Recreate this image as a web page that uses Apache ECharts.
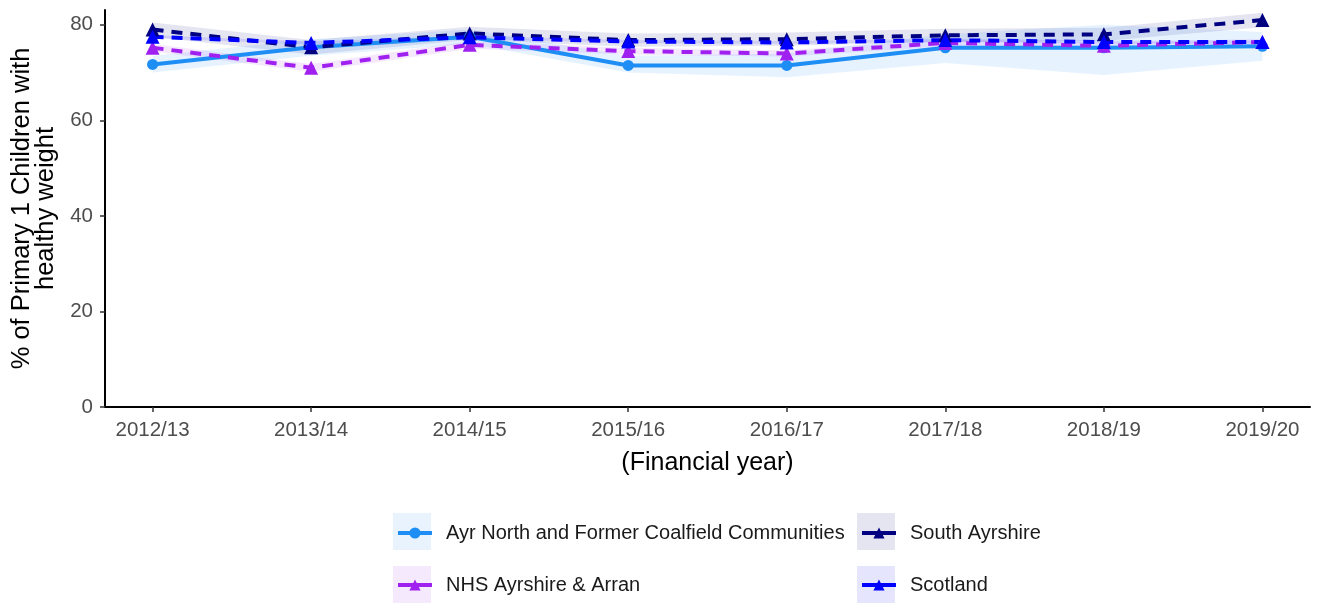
<!DOCTYPE html>
<html>
<head>
<meta charset="utf-8">
<script src="https://cdn.jsdelivr.net/npm/echarts@6/dist/echarts.min.js"></script>
<style>
html,body{margin:0;padding:0;background:#fff;}
#chart{width:1323px;height:604px;}
</style>
</head>
<body>
<div id="chart"></div>
<script>
const categories = ['2012/13','2013/14','2014/15','2015/16','2016/17','2017/18','2018/19','2019/20'];
const yTicks = [0,20,40,60,80];

const ayrValues   = [71.7, 75.3, 77.5, 71.5, 71.5, 75.2, 75.2, 75.5];
const ayrLower    = [70.0, 73.5, 76.0, 70.0, 69.0, 72.0, 69.5, 72.5];
const ayrUpper    = [73.5, 77.0, 79.0, 73.5, 74.0, 78.0, 80.0, 78.5];

const nhsValues   = [75.2, 71.0, 75.8, 74.5, 74.0, 76.2, 75.6, 76.4];
const nhsLower    = [74.4, 70.2, 75.0, 73.8, 73.3, 75.5, 74.9, 75.7];
const nhsUpper    = [76.0, 71.8, 76.6, 75.2, 74.7, 76.9, 76.3, 77.1];

const sayValues   = [79.0, 75.3, 78.2, 76.8, 77.0, 77.8, 78.0, 81.0];
const sayLower    = [77.5, 73.8, 76.8, 75.4, 75.6, 76.4, 76.6, 79.5];
const sayUpper    = [80.5, 76.8, 79.6, 78.2, 78.4, 79.2, 79.4, 82.5];

const scoValues   = [77.5, 76.2, 77.4, 76.5, 76.3, 76.8, 76.4, 76.4];
const scoLower    = [77.2, 75.9, 77.1, 76.2, 76.0, 76.5, 76.1, 76.1];
const scoUpper    = [77.8, 76.5, 77.7, 76.8, 76.6, 77.1, 76.7, 76.7];

const FONT = '"Liberation Sans", Arial, sans-serif';

const seriesDefs = [
  {name:'Ayr North and Former Coalfield Communities', v:ayrValues, lo:ayrLower, hi:ayrUpper, color:'#1E8EF5', band:'rgba(30,144,255,0.11)', symbol:'circle', size:11, dash:'solid'},
  {name:'NHS Ayrshire & Arran', v:nhsValues, lo:nhsLower, hi:nhsUpper, color:'#A020F0', band:'rgba(160,32,240,0.10)', symbol:'triangle', size:14, dash:[11,8]},
  {name:'South Ayrshire', v:sayValues, lo:sayLower, hi:sayUpper, color:'#000080', band:'rgba(0,0,128,0.10)', symbol:'triangle', size:14, dash:[11,8]},
  {name:'Scotland', v:scoValues, lo:scoLower, hi:scoUpper, color:'#0000FF', band:'rgba(0,0,255,0.10)', symbol:'triangle', size:14, dash:[11,8]}
];

const series = [];
seriesDefs.forEach((d, k) => {
  series.push({
    type:'custom', name:'band_'+k, silent:true, z:1,
    data:d.lo.map((lo,i)=>[i, lo, d.hi[i]]),
    encode:{x:0, y:[1,2]},
    renderItem:function(params, api){
      if (params.dataIndex !== 0) return null;
      const pts = [];
      for (let i = 0; i < d.lo.length; i++) pts.push(api.coord([i, d.hi[i]]));
      for (let i = d.lo.length - 1; i >= 0; i--) pts.push(api.coord([i, d.lo[i]]));
      return {type:'polygon', shape:{points:pts}, style:{fill:d.band}};
    }
  });
});
seriesDefs.forEach((d) => {
  series.push({
    type:'line', name:d.name, symbol:d.symbol, symbolSize:d.size, showSymbol:true,
    itemStyle:{color:d.color}, lineStyle:{color:d.color, width:4, type:d.dash},
    data:d.v.map((y,i)=>[i,y]), z:5
  });
});

function legendFor(name, left, top){
  return {
    orient:'horizontal', left:left, top:top, padding:0,
    itemWidth:34, itemHeight:14,
    lineStyle:{width:4, type:'solid'},
    textStyle:{fontFamily:FONT, fontSize:20, color:'#1a1a1a', padding:[0,0,0,9]},
    data:[{name:name}]
  };
}

const chart = echarts.init(document.getElementById('chart'), null, {renderer:'canvas'});
chart.setOption({
  animation:false,
  backgroundColor:'#fff',
  textStyle:{fontFamily:FONT},
  grid:{left:105, right:13, top:10, bottom:197},
  xAxis:{
    type:'value', min:-0.3, max:7.3,
    name:'(Financial year)', nameLocation:'middle', nameGap:44,
    nameTextStyle:{fontFamily:FONT, fontSize:25, color:'#000'},
    axisLine:{show:true, onZero:false, lineStyle:{color:'#000', width:2}},
    axisTick:{show:true, customValues:[0,1,2,3,4,5,6,7], length:5, lineStyle:{color:'#333', width:1.5}},
    axisLabel:{customValues:[0,1,2,3,4,5,6,7], formatter:(v)=>categories[Math.round(v)], fontFamily:FONT, fontSize:20.5, color:'#4D4D4D', margin:13},
    splitLine:{show:false}
  },
  yAxis:{
    type:'value', min:0, max:83.1,
    name:'% of Primary 1 Children with\nhealthy weight', nameLocation:'middle', nameRotate:90, nameGap:45,
    nameTextStyle:{fontFamily:FONT, fontSize:25.5, color:'#000', lineHeight:24.5},
    axisLine:{show:true, onZero:false, lineStyle:{color:'#000', width:2}},
    axisTick:{show:true, customValues:yTicks, length:5, lineStyle:{color:'#333', width:1.5}},
    axisLabel:{customValues:yTicks, fontFamily:FONT, fontSize:20.5, color:'#4D4D4D', margin:12},
    splitLine:{show:false}
  },
  legend:[
    legendFor('Ayr North and Former Coalfield Communities', 396, 523),
    legendFor('NHS Ayrshire & Arran', 396, 575),
    legendFor('South Ayrshire', 860, 523),
    legendFor('Scotland', 860, 575)
  ],
  graphic:[
    {type:'rect', shape:{x:393, y:513, width:38, height:37}, style:{fill:'#E8F3FE'}, z:-1},
    {type:'rect', shape:{x:393, y:566, width:38, height:37}, style:{fill:'#F5E9FE'}, z:-1},
    {type:'rect', shape:{x:857, y:513, width:38, height:37}, style:{fill:'#E5E5F2'}, z:-1},
    {type:'rect', shape:{x:857, y:566, width:38, height:37}, style:{fill:'#E5E5FE'}, z:-1}
  ],
  series:series
});
</script>
</body>
</html>
